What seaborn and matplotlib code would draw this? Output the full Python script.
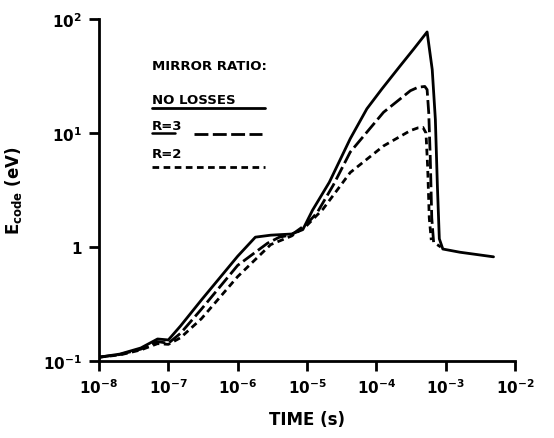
import numpy as np
import pandas as pd
import matplotlib
matplotlib.use("Agg")
import matplotlib.pyplot as plt
import seaborn as sns

# ---- data ----
t_none = [1e-8, 2e-8, 4e-8, 7e-8, 1e-7, 1.5e-7, 3e-7, 1e-6, 1.8e-6, 3e-6, 6e-6, 8.7e-6,
          1.2e-5, 2.1e-5, 4.2e-5, 7.3e-5, 1.2e-4, 2.2e-4, 3.5e-4, 5.4e-4, 6.4e-4, 7.1e-4,
          7.6e-4, 8.1e-4, 9.1e-4, 1.6e-3, 4.9e-3]
e_none = [0.108, 0.115, 0.130, 0.156, 0.153, 0.203, 0.343, 0.83, 1.22, 1.27, 1.30, 1.42,
          2.1, 3.7, 8.9, 16.3, 24.3, 38.7, 55, 77, 36, 13.2,
          3.4, 1.18, 0.96, 0.90, 0.82]

t_r3 = [1e-8, 2e-8, 4e-8, 7e-8, 1e-7, 1.5e-7, 3e-7, 1e-6, 2.7e-6, 4e-6, 6e-6, 1e-5,
        1.4e-5, 2.4e-5, 4.2e-5, 1.27e-4, 3.1e-4, 4.0e-4, 5.0e-4, 5.4e-4, 5.7e-4, 6.0e-4,
        6.3e-4, 6.7e-4, 8.5e-4]
e_r3 = [0.108, 0.114, 0.127, 0.148, 0.143, 0.175, 0.285, 0.69, 1.08, 1.22, 1.28, 1.6,
        2.0, 3.5, 6.8, 15.2, 23.5, 25.2, 25.6, 24, 15, 6,
        1.8, 1.1, 1.0]

t_r2 = [1e-8, 2e-8, 4e-8, 7e-8, 1e-7, 1.5e-7, 3e-7, 1e-6, 3e-6, 6e-6, 1e-5, 1.7e-5,
        4.2e-5, 1.27e-4, 3.1e-4, 4.0e-4, 4.7e-4, 5.2e-4, 5.5e-4, 5.8e-4, 6.2e-4]
e_r2 = [0.108, 0.113, 0.125, 0.142, 0.14, 0.16, 0.235, 0.55, 1.05, 1.25, 1.55, 2.15,
        4.5, 7.7, 10.5, 11.1, 11.2, 10, 5, 1.8, 1.15]

x_ticks = [1e-8, 1e-7, 1e-6, 1e-5, 1e-4, 1e-3, 1e-2]
x_labels = [r"$\mathbf{10^{-8}}$", r"$\mathbf{10^{-7}}$", r"$\mathbf{10^{-6}}$", r"$\mathbf{10^{-5}}$",
            r"$\mathbf{10^{-4}}$", r"$\mathbf{10^{-3}}$", r"$\mathbf{10^{-2}}$"]
y_ticks = [0.1, 1, 10, 100]
y_labels = [r"$\mathbf{10^{-1}}$", r"$\mathbf{1}$", r"$\mathbf{10^{1}}$", r"$\mathbf{10^{2}}$"]

series_names = ["NO LOSSES", "R=3", "R=2"]

df = pd.concat([
    pd.DataFrame({"t": t_none, "E": e_none, "series": series_names[0]}),
    pd.DataFrame({"t": t_r3, "E": e_r3, "series": series_names[1]}),
    pd.DataFrame({"t": t_r2, "E": e_r2, "series": series_names[2]}),
])

sns.set_style("ticks")
plt.rcParams["font.family"] = ["DejaVu Sans"]
plt.rcParams["mathtext.fontset"] = "dejavusans"
plt.rcParams["text.color"] = "black"
plt.rcParams["axes.labelcolor"] = "black"
plt.rcParams["xtick.color"] = "black"
plt.rcParams["ytick.color"] = "black"

fig = plt.figure(figsize=(5.54, 4.39), dpi=100)
ax = fig.add_axes([99/554, 77/439, 416/554, 342/439])

dashes = {"NO LOSSES": "", "R=3": (5, 1.6), "R=2": (2.4, 1.6)}
sns.lineplot(data=df, x="t", y="E", hue="series", style="series", dashes=dashes,
             palette={s: "black" for s in series_names}, sort=False, estimator=None,
             units="series", linewidth=2.0, legend=False, ax=ax)

ax.set_xscale("log")
ax.set_yscale("log")
ax.set_xlim(1e-8, 1e-2)
ax.set_ylim(0.1, 100)
ax.set_xticks(x_ticks)
ax.set_xticklabels(x_labels, fontsize=11)
ax.set_yticks(y_ticks)
ax.set_yticklabels(y_labels, fontsize=11)
ax.minorticks_off()
ax.tick_params(axis="both", which="major", direction="out", length=7, width=2, color="black", pad=5)
for side in ["top", "right"]:
    ax.spines[side].set_visible(False)
for side in ["left", "bottom"]:
    ax.spines[side].set_linewidth(2)
    ax.spines[side].set_color("black")

ax.set_xlabel("TIME (s)", fontsize=12, fontweight="bold", labelpad=10)
ax.set_ylabel(r"$\mathbf{E_{code}}$ (eV)", fontsize=12, fontweight="bold", labelpad=14)

# legend drawn as in the reference
def fx(px):
    return (px - 99) / 416
def fy(py):
    return (362 - py) / 342

ax.text(fx(152), fy(66), "MIRROR RATIO:", transform=ax.transAxes, fontsize=9.5,
        fontweight="bold", va="center", ha="left")
ax.text(fx(152), fy(101), "NO LOSSES", transform=ax.transAxes, fontsize=9.5,
        fontweight="bold", va="center", ha="left")
ax.plot([fx(152), fx(265)], [fy(109), fy(109)], transform=ax.transAxes, color="black", lw=2)
ax.text(fx(152), fy(127), "R=3", transform=ax.transAxes, fontsize=9.5,
        fontweight="bold", va="center", ha="left")
ax.plot([fx(152), fx(175)], [fy(134), fy(134)], transform=ax.transAxes, color="black", lw=1.8)
ax.plot([fx(194), fx(262)], [fy(135), fy(135)], transform=ax.transAxes, color="black", lw=2,
        dashes=(5, 1.6))
ax.text(fx(152), fy(154), "R=2", transform=ax.transAxes, fontsize=9.5,
        fontweight="bold", va="center", ha="left")
ax.plot([fx(152), fx(265)], [fy(168), fy(168)], transform=ax.transAxes, color="black", lw=2,
        dashes=(2.4, 1.6))

fig.savefig("out.png", dpi=100)
